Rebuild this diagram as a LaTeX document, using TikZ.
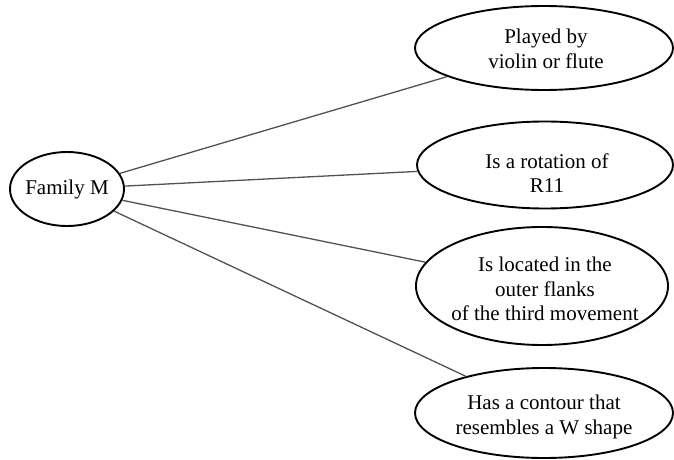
\documentclass[tikz,border=0pt]{standalone}
\usepackage{fontspec}
\setmainfont{Liberation Serif}
\usetikzlibrary{shapes.geometric}
\tikzset{
  oval/.style={ellipse, draw=black, line width=0.95pt, inner sep=0pt},
  caption/.style={inner sep=0pt, align=center,
    font=\rmfamily\fontsize{10.5pt}{12.2pt}\selectfont},
  link/.style={draw=black!68, line width=0.65pt},
}
\begin{document}
\begin{tikzpicture}[x=0.5pt, y=-0.5pt]
  \useasboundingbox (0,0) rectangle (674,460);
  % outlines
  \node[oval, minimum width=57pt, minimum height=37pt] (fam) at (67,189) {};
  \node[oval, minimum width=129pt, minimum height=42pt] (play) at (544,48) {};
  \node[oval, minimum width=128pt, minimum height=43.5pt] (rot) at (545,165) {};
  \node[oval, minimum width=126pt, minimum height=59pt] (loc) at (542,286) {};
  \node[oval, minimum width=129pt, minimum height=45pt] (cont) at (544,413) {};
  % captions
  \node[caption] (famtxt) at (67,189) {Family M};
  \node[caption] (playtxt) at (546,49) {Played by\\ violin or flute};
  \node[caption] (rottxt) at (547,173) {Is a rotation of\\ R11};
  \node[caption] (loctxt) at (545,289) {Is located in the\\ outer flanks\\ of the third movement};
  \node[caption] (conttxt) at (544,417) {Has a contour that\\ resembles a W shape};
  % connectors
  \draw[link] (fam) -- (play);
  \draw[link] (fam) -- (rot);
  \draw[link] (fam) -- (loc);
  \draw[link] (fam) -- (cont);
\end{tikzpicture}
\end{document}
